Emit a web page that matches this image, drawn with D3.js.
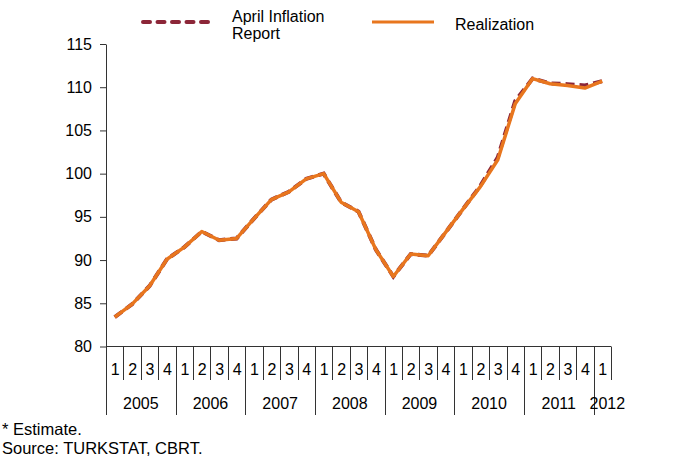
<!DOCTYPE html>
<html>
<head>
<meta charset="utf-8">
<script src="https://cdn.jsdelivr.net/npm/d3@7"></script>
<style>
  body { margin: 0; background: #fff; }
  svg { font-family: "Liberation Sans", Arial, sans-serif; }
</style>
</head>
<body>
<svg id="chart"></svg>
<script>
// data, one value per quarter 2005Q1 .. 2012Q1
const years = ["2005", "2006", "2007", "2008", "2009", "2010", "2011", "2012"];
const quarterLabels = ["1", "2", "3", "4"];
const realization = [
  83.4, 84.9, 87.0, 90.1,
  91.5, 93.3, 92.3, 92.5,
  94.8, 97.0, 97.9, 99.4,
  100.0, 96.7, 95.6, 91.2,
  88.1, 90.7, 90.5, 93.2,
  95.9, 98.5, 101.6, 108.1,
  111.0, 110.4, 110.2, 109.9,
  110.7
];
const aprilReport = [
  83.4, 84.9, 87.0, 90.1,
  91.5, 93.3, 92.3, 92.5,
  94.8, 97.0, 97.9, 99.4,
  100.0, 96.7, 95.6, 91.2,
  88.1, 90.7, 90.5, 93.2,
  95.9, 98.6, 101.9, 108.4,
  111.0, 110.45, 110.35, 110.2,
  110.7
];
const yTicks = [80, 85, 90, 95, 100, 105, 110, 115];
const seriesNames = ["April Inflation\nReport", "Realization"];
const footnotes = ["* Estimate.", "Source: TURKSTAT, CBRT."];

const WIDTH = 677, HEIGHT = 457;
const LEFT = 106, RIGHT = 611, TOP = 44, BOTTOM = 346.5;
const ORANGE = "#E8761E", DARKRED = "#8C2638", AXIS = "#333";
const FONT = "16px";

// quarter keys like 2005-1
const quarters = [];
years.forEach(y => {
  const n = y === "2012" ? 1 : 4;
  for (let q = 0; q < n; q++) quarters.push({ year: y, q: quarterLabels[q], key: y + "-" + quarterLabels[q] });
});

const svg = d3.select("#chart").attr("width", WIDTH).attr("height", HEIGHT);

const xScale = d3.scaleBand().domain(quarters.map(d => d.key)).range([LEFT, RIGHT]);
const yScale = d3.scaleLinear().domain([80, 115]).range([BOTTOM, TOP]);
const xc = i => xScale(quarters[i].key) + xScale.bandwidth() / 2;

// y axis
const yAxis = svg.append("g")
  .attr("transform", `translate(${LEFT},0)`)
  .call(d3.axisLeft(yScale).tickValues(yTicks).tickSize(6).tickSizeOuter(0).tickPadding(8));
yAxis.select(".domain").attr("stroke", AXIS);
yAxis.selectAll(".tick line").attr("stroke", AXIS);
yAxis.selectAll(".tick text").attr("font-size", FONT).attr("fill", "#000")
  .attr("font-family", "Liberation Sans, Arial, sans-serif");

// x axis: baseline, quarter separators, year separators
const xg = svg.append("g").attr("stroke", AXIS).attr("stroke-width", 1);
xg.append("line")
  .attr("x1", LEFT).attr("x2", RIGHT).attr("y1", BOTTOM).attr("y2", BOTTOM);
quarters.forEach((d, i) => {
  const x = Math.round(xScale(d.key)) + 0.5;
  xg.append("line")
    .attr("x1", x).attr("x2", x)
    .attr("y1", BOTTOM).attr("y2", d.q === "1" ? 415 : 380);
});
xg.append("line")
  .attr("x1", Math.round(RIGHT) + 0.5).attr("x2", Math.round(RIGHT) + 0.5)
  .attr("y1", BOTTOM).attr("y2", 380);

svg.append("g").selectAll("text")
  .data(quarters)
  .join("text")
  .attr("x", (d, i) => xc(i) + 0.5)
  .attr("y", 375)
  .attr("text-anchor", "middle")
  .attr("font-size", FONT)
  .text(d => d.q);

svg.append("g").selectAll("text")
  .data(years)
  .join("text")
  .attr("x", y => {
    const qs = quarters.filter(d => d.year === y);
    const a = xScale(qs[0].key), b = xScale(qs[qs.length - 1].key) + xScale.bandwidth();
    return y === "2012" ? (a + b) / 2 + 5 : (a + b) / 2;
  })
  .attr("y", 409)
  .attr("text-anchor", "middle")
  .attr("font-size", FONT)
  .text(y => y);

// lines
const line = d3.line().x((d, i) => xc(i)).y(d => yScale(d));
svg.append("path")
  .datum(aprilReport)
  .attr("d", line)
  .attr("fill", "none")
  .attr("stroke", DARKRED)
  .attr("stroke-width", 4)
  .attr("stroke-dasharray", "9,5");
svg.append("path")
  .datum(realization)
  .attr("d", line)
  .attr("fill", "none")
  .attr("stroke", ORANGE)
  .attr("stroke-width", 3.5)
  .attr("stroke-linejoin", "round");

// legend
const legend = svg.append("g");
legend.append("line")
  .attr("x1", 143).attr("x2", 211).attr("y1", 22).attr("y2", 22)
  .attr("stroke", DARKRED).attr("stroke-width", 4)
  .attr("stroke-linecap", "round").attr("stroke-dasharray", "7,7.5");
legend.append("text")
  .attr("x", 232).attr("y", 22).attr("font-size", FONT)
  .selectAll("tspan")
  .data(seriesNames[0].split("\n"))
  .join("tspan")
  .attr("x", 232).attr("dy", (d, i) => i ? 17 : 0)
  .text(d => d);
legend.append("line")
  .attr("x1", 372).attr("x2", 434).attr("y1", 22).attr("y2", 22)
  .attr("stroke", ORANGE).attr("stroke-width", 3);
legend.append("text")
  .attr("x", 455).attr("y", 30).attr("font-size", FONT)
  .text(seriesNames[1]);

// footnotes
svg.append("g").selectAll("text")
  .data(footnotes)
  .join("text")
  .attr("x", 2)
  .attr("y", (d, i) => 435 + i * 19)
  .attr("font-size", "16.5px")
  .text(d => d);
</script>
</body>
</html>
